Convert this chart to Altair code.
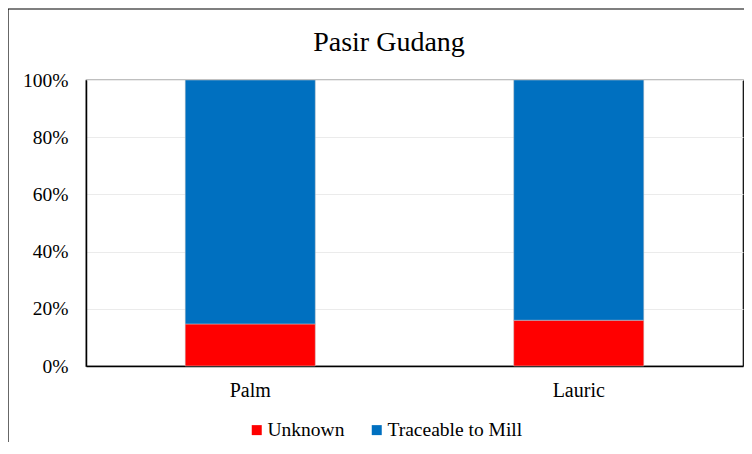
import altair as alt
import pandas as pd

title_text = "Pasir Gudang"
categories = ["Palm", "Lauric"]
series = ["Unknown", "Traceable to Mill"]
unknown = [0.147, 0.160]
traceable = [0.853, 0.840]
colors = ["#FF0000", "#0070C0"]

rows = []
for i, c in enumerate(categories):
    rows.append({"cat": c, "series": series[0], "value": unknown[i], "ord": 0})
    rows.append({"cat": c, "series": series[1], "value": traceable[i], "ord": 1})
df = pd.DataFrame(rows)

FONT = "Liberation Serif"

bars = alt.Chart(df).mark_bar(stroke="#c8c8c8", strokeWidth=0.5).encode(
    x=alt.X("cat:N", sort=categories,
            scale=alt.Scale(paddingInner=0.604, paddingOuter=0.302),
            axis=alt.Axis(title=None, labelAngle=0, labelPadding=14, ticks=False,
                          domainColor="#000000", domainWidth=1.5, labelFontSize=20,
                          labelFont=FONT, labelColor="#000000")),
    y=alt.Y("value:Q", stack="zero",
            scale=alt.Scale(domain=[0, 1], nice=False),
            axis=alt.Axis(title=None, values=[0, 0.2, 0.4, 0.6, 0.8, 1.0], format=".0%",
                          ticks=False, labelPadding=18, domainColor="#000000", domainWidth=1.5,
                          gridColor="#ebebeb", labelFontSize=19.5, labelFont=FONT,
                          labelColor="#000000")),
    color=alt.Color("series:N", sort=series,
                    scale=alt.Scale(domain=series, range=colors),
                    legend=alt.Legend(title=None, orient="none", direction="horizontal",
                                      legendX=161, legendY=340, symbolType="square",
                                      symbolSize=100, symbolStrokeWidth=0,
                                      labelFontSize=19.5, labelFont=FONT, labelColor="#000000",
                                      columnPadding=22, labelOffset=1)),
    order=alt.Order("ord:Q", sort="ascending"),
)

one = pd.DataFrame({"a": [1]})
left_line = alt.Chart(one).mark_rule(color="#000000", strokeWidth=1.2, clip=False).encode(
    x=alt.value(-78), y=alt.value(-71), y2=alt.value(362))
top_line = alt.Chart(one).mark_rule(color="#000000", strokeWidth=1.2, clip=False).encode(
    x=alt.value(-78), x2=alt.value(658), y=alt.value(-71))
title = alt.Chart(one).mark_text(fontSize=28, font=FONT, color="#000000",
                                 align="center", baseline="alphabetic").encode(
    x=alt.value(303), y=alt.value(-29), text=alt.value(title_text))

chart = alt.layer(left_line, top_line, title, bars).properties(
    width=657, height=286,
    autosize=alt.AutoSizeParams(type="none"),
    padding={"left": 78, "top": 72, "right": 1, "bottom": 76},
).configure_view(stroke="#000000", strokeWidth=1.2)

chart.save("out.html", embed_options={"renderer": "svg", "actions": False})
